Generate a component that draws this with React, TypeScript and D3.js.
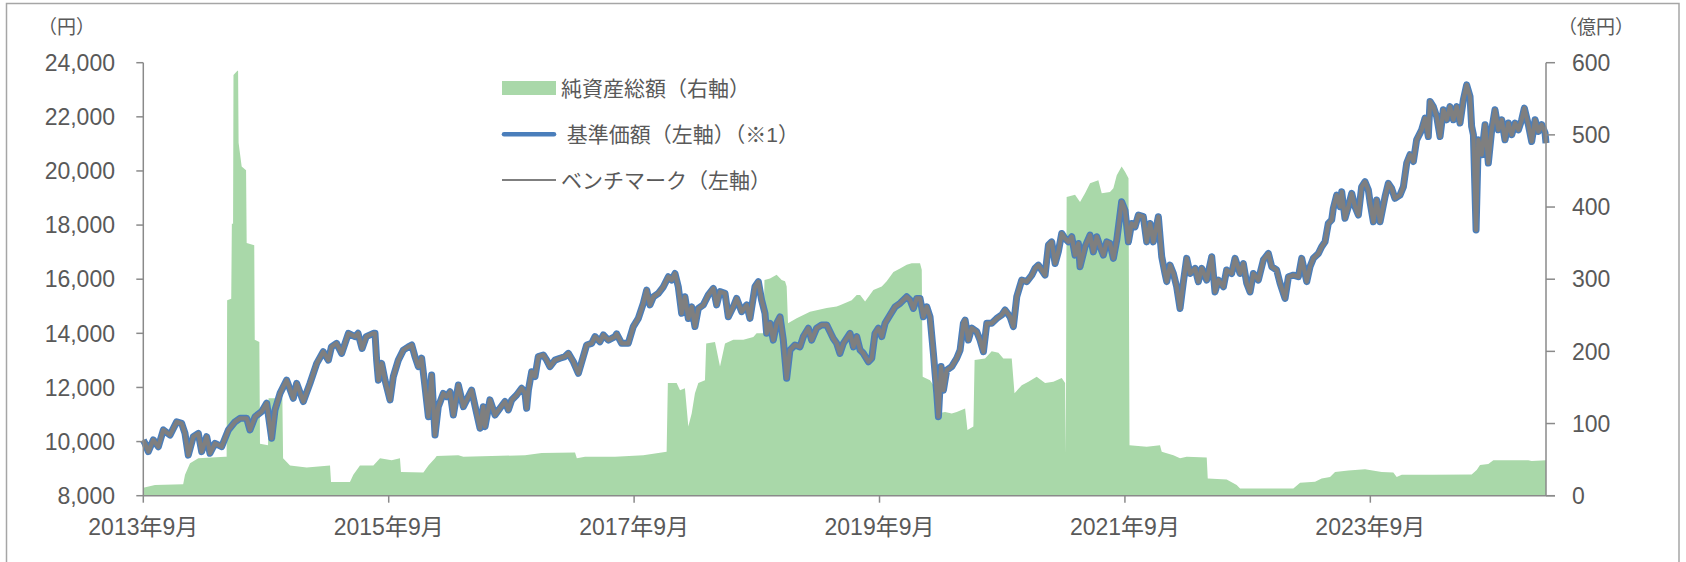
import React from 'react';
import * as d3 from 'd3';

// x positions are months elapsed since 2013年9月
const xDomain: [number, number] = [0, 137.18];
const xTickMonths = [0, 24, 48, 72, 96, 120];
const xTickLabels = ['2013年9月', '2015年9月', '2017年9月', '2019年9月', '2021年9月', '2023年9月'];
const leftTicks = [8000, 10000, 12000, 14000, 16000, 18000, 20000, 22000, 24000];
const rightTicks = [0, 100, 200, 300, 400, 500, 600];
const legendLabels = ['純資産総額（右軸）', ' 基準価額（左軸）（※1）', 'ベンチマーク（左軸）'];

// 基準価額 (円): [month, value]
const nav: [number, number][] = [
  [0, 10050], [0.17, 9930], [0.49, 9630], [0.98, 10060], [1.47, 9810], [1.96, 10430], [2.61, 10240],
  [3.26, 10730], [3.75, 10670], [4.08, 10300], [4.4, 9500], [4.89, 10180], [5.38, 10300], [5.71, 9630],
  [6.2, 10180], [6.52, 9570], [7.01, 9930], [7.66, 9810], [8.32, 10430], [8.97, 10730], [9.46, 10860],
  [10.11, 10860], [10.43, 10430], [10.93, 10920], [11.58, 11110], [12.07, 11420], [12.55, 10120],
  [12.88, 11170], [13.37, 11780], [14.02, 12270], [14.67, 11600], [15.0, 12150], [15.65, 11480],
  [16.3, 12150], [16.96, 12890], [17.6, 13320], [18.1, 13010], [18.4, 13500], [18.9, 13630],
  [19.4, 13260], [20.06, 14000], [20.7, 13880], [21.0, 14000], [21.4, 13440], [21.8, 13880],
  [22.5, 14000], [22.66, 14000], [22.82, 13010], [22.99, 12270], [23.31, 12890], [23.64, 12270],
  [24.13, 11540], [24.45, 12400], [24.94, 13010], [25.43, 13380], [25.92, 13500], [26.25, 13570],
  [26.57, 13140], [26.9, 12770], [27.22, 13080], [27.55, 12030], [27.88, 10920], [28.2, 12460],
  [28.53, 10240], [28.85, 11290], [29.34, 11780], [29.67, 11660], [30.0, 11840], [30.32, 10980],
  [30.81, 12090], [31.3, 11290], [31.79, 11660], [32.11, 11900], [32.6, 11050], [32.93, 10490],
  [33.25, 11290], [33.42, 10550], [33.9, 11540], [34.4, 10980], [34.88, 11230], [35.37, 11480],
  [35.7, 11170], [36.03, 11540], [36.51, 11720], [37.0, 11970], [37.33, 11780], [37.49, 11230],
  [37.66, 11900], [37.98, 12580], [38.31, 12400], [38.63, 13140], [39.12, 13200], [39.45, 13010],
  [39.77, 12770], [40.26, 13010], [40.75, 13080], [41.24, 13140], [41.57, 13260], [42.06, 12950],
  [42.55, 12520], [43.03, 13140], [43.36, 13570], [43.85, 13630], [44.18, 13880], [44.66, 13690],
  [44.99, 13940], [45.48, 13750], [46.13, 13880], [46.29, 13980], [46.78, 13630], [47.43, 13630],
  [47.92, 14250], [48.41, 14550], [48.9, 15110], [49.23, 15600], [49.55, 15050], [49.88, 15350],
  [50.37, 15480], [50.86, 15720], [51.35, 16090], [51.67, 15970], [52.0, 16210], [52.32, 15720],
  [52.65, 14740], [52.97, 15350], [53.3, 14550], [53.63, 14980], [53.95, 14250], [54.28, 14920],
  [54.77, 15050], [55.26, 15420], [55.75, 15660], [56.07, 15050], [56.4, 15540], [56.89, 15480],
  [57.21, 14610], [57.7, 14980], [58.03, 15290], [58.52, 14800], [59.01, 15050], [59.33, 14550],
  [59.82, 15720], [60.15, 15910], [60.47, 15230], [60.8, 14740], [60.96, 14000], [61.29, 14370],
  [61.61, 13750], [61.94, 14370], [62.27, 14610], [62.59, 13750], [62.92, 12340], [63.24, 13380],
  [63.73, 13570], [64.22, 13500], [64.55, 13880], [65.04, 14190], [65.36, 13750], [65.85, 14190],
  [66.34, 14310], [66.83, 14310], [67.16, 14060], [67.48, 13810], [67.81, 13630], [68.13, 13260],
  [68.46, 13630], [69.12, 14000], [69.45, 13500], [69.77, 13880], [70.1, 13380], [70.42, 13260],
  [70.91, 12950], [71.24, 13080], [71.56, 14000], [71.89, 14190], [72.22, 13880], [72.54, 14370],
  [73.03, 14680], [73.52, 14980], [74.01, 15110], [74.66, 15350], [74.99, 15230], [75.31, 14920],
  [75.64, 15290], [75.96, 15290], [76.29, 14610], [76.62, 14980], [76.94, 14610], [77.27, 13260],
  [77.6, 11780], [77.76, 10920], [78.02, 12770], [78.25, 11900], [78.57, 12640], [79.06, 12770],
  [79.55, 13080], [79.88, 13380], [80.2, 14370], [80.37, 14490], [80.69, 13750], [81.02, 14190],
  [81.51, 14060], [81.83, 13750], [82.16, 13320], [82.49, 14370], [82.97, 14370], [83.46, 14550],
  [83.95, 14680], [84.28, 14860], [84.77, 14610], [85.09, 14250], [85.42, 15350], [85.91, 15970],
  [86.4, 15910], [86.89, 16150], [87.21, 16400], [87.54, 16520], [87.86, 16340], [88.19, 16150],
  [88.52, 17260], [88.84, 17380], [89.17, 16580], [89.49, 17020], [89.82, 17690], [90.15, 17500],
  [90.47, 17380], [90.8, 17570], [91.12, 16890], [91.45, 17320], [91.61, 16460], [92.1, 17200],
  [92.59, 17630], [92.91, 17010], [93.24, 17570], [93.57, 17200], [93.89, 16890], [94.22, 17380],
  [94.54, 17320], [94.87, 16770], [95.2, 17440], [95.68, 18860], [96.01, 18550], [96.34, 17380],
  [96.66, 18060], [96.99, 17940], [97.32, 18370], [97.8, 18310], [98.13, 17380], [98.46, 18060],
  [98.78, 17380], [99.27, 18310], [99.6, 16830], [99.92, 16210], [100.09, 15910], [100.41, 16520],
  [100.74, 16210], [101.06, 15720], [101.39, 14920], [101.72, 15910], [102.04, 16770], [102.37, 16210],
  [102.86, 16400], [103.18, 15910], [103.51, 16400], [104.0, 15970], [104.49, 16830], [104.81, 15530],
  [105.14, 15970], [105.63, 15720], [105.95, 16340], [106.44, 16210], [106.77, 16770], [107.26, 16210],
  [107.58, 16580], [107.91, 15850], [108.24, 15530], [108.56, 16210], [109.05, 15970], [109.54, 16710],
  [110.03, 16950], [110.36, 16460], [110.84, 16340], [111.17, 15850], [111.66, 15290], [111.99, 16090],
  [112.47, 16150], [112.96, 16090], [113.29, 16770], [113.78, 15910], [114.1, 16460], [114.43, 16770],
  [114.92, 16950], [115.24, 17200], [115.57, 17380], [115.89, 18060], [116.22, 18190], [116.38, 18620],
  [116.71, 19110], [117.04, 18680], [117.2, 19230], [117.52, 18250], [117.85, 18680], [118.18, 19170],
  [118.5, 18680], [118.83, 18370], [119.15, 19410], [119.48, 19600], [119.81, 19290], [119.97, 18860],
  [120.3, 18120], [120.62, 18930], [120.95, 18120], [121.44, 19050], [121.76, 19540], [122.09, 19350],
  [122.41, 18990], [122.9, 19110], [123.23, 19410], [123.56, 20290], [123.88, 20600], [124.21, 20350],
  [124.53, 21150], [125.02, 21520], [125.35, 21950], [125.67, 21270], [125.84, 22570], [126.16, 22380],
  [126.49, 22010], [126.82, 21270], [127.14, 22260], [127.47, 21890], [127.79, 22380], [128.12, 21890],
  [128.45, 22380], [128.77, 21770], [129.1, 22630], [129.42, 23180], [129.75, 22750], [129.91, 21640],
  [130.08, 21340], [130.34, 17820], [130.56, 21150], [130.89, 20600], [131.22, 21710], [131.54, 20290],
  [131.87, 21520], [132.19, 22260], [132.52, 21520], [132.85, 21890], [133.17, 21150], [133.5, 21770],
  [133.83, 21340], [134.15, 21770], [134.48, 21520], [134.8, 21890], [135.06, 22320], [135.45, 21710],
  [135.78, 21090], [136.11, 21890], [136.43, 21460], [136.76, 21710], [137.09, 21400], [137.18, 21030],
];

// ベンチマーク (円): coincides with the 基準価額 line at the picture's resolution
const benchmark: [number, number][] = nav;

// 純資産総額 (億円): [month, value]
const netAssets: [number, number][] = [
  [0, 11], [1.14, 15], [3.9, 16], [4.08, 29], [4.57, 45], [5.38, 52], [8.0, 54], [8.15, 54], [8.2, 271],
  [8.6, 273], [8.66, 377], [8.78, 377], [8.82, 583], [9.2, 589], [9.27, 589], [9.32, 489], [9.62, 456],
  [10.05, 451], [10.11, 350], [10.85, 347], [10.9, 216], [11.35, 213], [11.41, 72], [12.2, 70],
  [12.25, 135], [13.6, 135], [13.67, 52], [14.35, 42], [15.98, 39], [18.26, 42], [18.36, 19],
  [20.21, 19], [20.54, 29], [21.19, 42], [22.5, 42], [23.15, 52], [24.29, 49], [25.1, 52], [25.2, 33],
  [27.39, 32], [27.88, 42], [28.53, 52], [28.69, 55], [30.81, 56], [31.3, 54], [34.07, 55], [37.33, 56],
  [38.96, 59], [42.22, 60], [42.4, 52], [43.2, 54], [46.13, 54], [48.9, 56], [51.18, 61], [51.3, 156],
  [52.16, 156], [52.49, 146], [52.97, 149], [53.3, 96], [53.63, 114], [53.95, 142], [54.28, 156],
  [54.93, 160], [55.05, 211], [55.91, 213], [56.4, 179], [56.89, 211], [57.7, 216], [58.68, 216],
  [59.66, 220], [59.98, 225], [60.64, 225], [60.75, 299], [61.29, 301], [61.94, 306], [62.43, 299],
  [62.76, 297], [62.92, 290], [63.05, 239], [63.9, 246], [65.2, 255], [66.83, 260], [67.81, 262],
  [68.13, 264], [69.28, 271], [69.77, 278], [70.1, 278], [70.59, 269], [71.4, 285], [72.22, 290],
  [72.7, 297], [73.36, 310], [74.01, 315], [74.66, 320], [75.15, 322], [75.96, 322], [76.13, 313],
  [76.22, 165], [76.94, 160], [77.27, 153], [77.6, 114], [78.41, 116], [79.06, 114], [79.55, 116],
  [80.37, 121], [80.6, 91], [81.18, 96], [81.3, 188], [82.32, 190], [82.97, 200], [83.63, 198],
  [84.11, 190], [84.93, 190], [85.2, 142], [85.91, 153], [86.56, 158], [87.37, 165], [88.19, 156],
  [89.0, 158], [89.82, 163], [90.15, 156], [90.22, 59], [90.3, 414], [91.12, 417], [91.61, 407],
  [92.1, 419], [92.59, 433], [93.4, 437], [93.73, 419], [94.54, 421], [94.87, 426], [95.2, 444],
  [95.68, 456], [96.01, 449], [96.35, 440], [96.45, 70], [98.13, 68], [99.43, 70], [99.6, 61],
  [100.74, 56], [101.39, 52], [102.04, 54], [104.0, 53], [104.1, 24], [105.95, 22.6], [106.93, 15],
  [107.26, 10], [112.47, 10], [113.13, 18], [114.59, 19.4], [115.24, 24], [116.06, 26], [116.55, 33],
  [117.85, 35], [119.48, 36.5], [121.11, 33], [122.25, 32], [122.58, 26], [123.07, 29], [126.0, 29],
  [129.91, 29.5], [130.4, 35.6], [130.73, 42.5], [131.54, 44], [132.03, 49], [135.45, 49], [135.78, 48],
  [137.18, 49],
];

const FONT = "'Liberation Sans', Arial, 'Noto Sans CJK JP', sans-serif";
const TEXT = '#595959';
const AXIS = '#8a8a8a';
const GREEN = '#a9d8a9';
const BLUE = '#4a7ebb';
const GRAY = '#7f7f7f';

export default function App() {
  const W = 1686;
  const H = 562;
  const left = 143.3, right = 1546, top = 62.7, bottom = 495.7;
  const x = d3.scaleLinear().domain(xDomain).range([left, right]);
  const yL = d3.scaleLinear().domain([8000, 24000]).range([bottom, top]);
  const yR = d3.scaleLinear().domain([0, 600]).range([bottom, top]);
  const area = d3.area<[number, number]>().x(d => x(d[0])).y0(yR(0)).y1(d => yR(d[1]));
  const line = d3.line<[number, number]>().x(d => x(d[0])).y(d => yL(d[1]));
  const fmt = d3.format(',');

  return (
    <svg width={W} height={H} style={{ position: 'absolute', left: 0, top: 0, background: '#fff' }} fontFamily={FONT}>
      <rect x={6.5} y={3.5} width={1672.5} height={570} fill="#fff" stroke="#a6a6a6" strokeWidth={1.5} />
      <path d={area(netAssets) || ''} fill={GREEN} />
      <path d={line(nav) || ''} fill="none" stroke={BLUE} strokeWidth={7} strokeLinejoin="round" />
      <path d={line(benchmark) || ''} fill="none" stroke={GRAY} strokeWidth={4.2} strokeLinejoin="round" />

      {/* left axis */}
      <line x1={left} x2={left} y1={top} y2={bottom} stroke={AXIS} strokeWidth={1.5} />
      {leftTicks.map(t => (
        <g key={'l' + t}>
          <line x1={left - 7} x2={left} y1={yL(t)} y2={yL(t)} stroke={AXIS} strokeWidth={1.5} />
          <text x={115} y={yL(t)} dy="0.36em" textAnchor="end" fontSize={23} fill={TEXT}>{fmt(t)}</text>
        </g>
      ))}
      {/* right axis */}
      <line x1={right} x2={right} y1={top} y2={bottom} stroke={AXIS} strokeWidth={1.5} />
      {rightTicks.map(t => (
        <g key={'r' + t}>
          <line x1={right} x2={right + 9} y1={yR(t)} y2={yR(t)} stroke={AXIS} strokeWidth={1.5} />
          <text x={1572} y={yR(t)} dy="0.36em" textAnchor="start" fontSize={23} fill={TEXT}>{t}</text>
        </g>
      ))}
      {/* x axis */}
      <line x1={left} x2={right + 9} y1={bottom} y2={bottom} stroke={AXIS} strokeWidth={1.5} />
      {xTickMonths.map((m, i) => (
        <g key={'x' + m}>
          <line x1={x(m)} x2={x(m)} y1={bottom} y2={bottom + 7} stroke={AXIS} strokeWidth={1.5} />
          <text x={x(m)} y={535} textAnchor="middle" fontSize={23} fill={TEXT}>{xTickLabels[i]}</text>
        </g>
      ))}

      <text x={66.5} y={34} textAnchor="middle" fontSize={19} fill={TEXT}>（円）</text>
      <text x={1596} y={34} textAnchor="middle" fontSize={19} fill={TEXT}>（億円）</text>

      {/* legend */}
      <rect x={502} y={81} width={54} height={14} fill={GREEN} />
      <text x={561} y={88} dy="0.36em" fontSize={21} fill={TEXT}>{legendLabels[0]}</text>
      <line x1={504} x2={554} y1={134.3} y2={134.3} stroke={BLUE} strokeWidth={4.5} strokeLinecap="round" />
      <text x={561} y={134} dy="0.36em" fontSize={21} fill={TEXT} style={{ whiteSpace: 'pre' }}>{legendLabels[1]}</text>
      <line x1={502} x2={556} y1={180} y2={180} stroke={GRAY} strokeWidth={2.2} />
      <text x={561} y={180} dy="0.36em" fontSize={21} fill={TEXT}>{legendLabels[2]}</text>
    </svg>
  );
}
